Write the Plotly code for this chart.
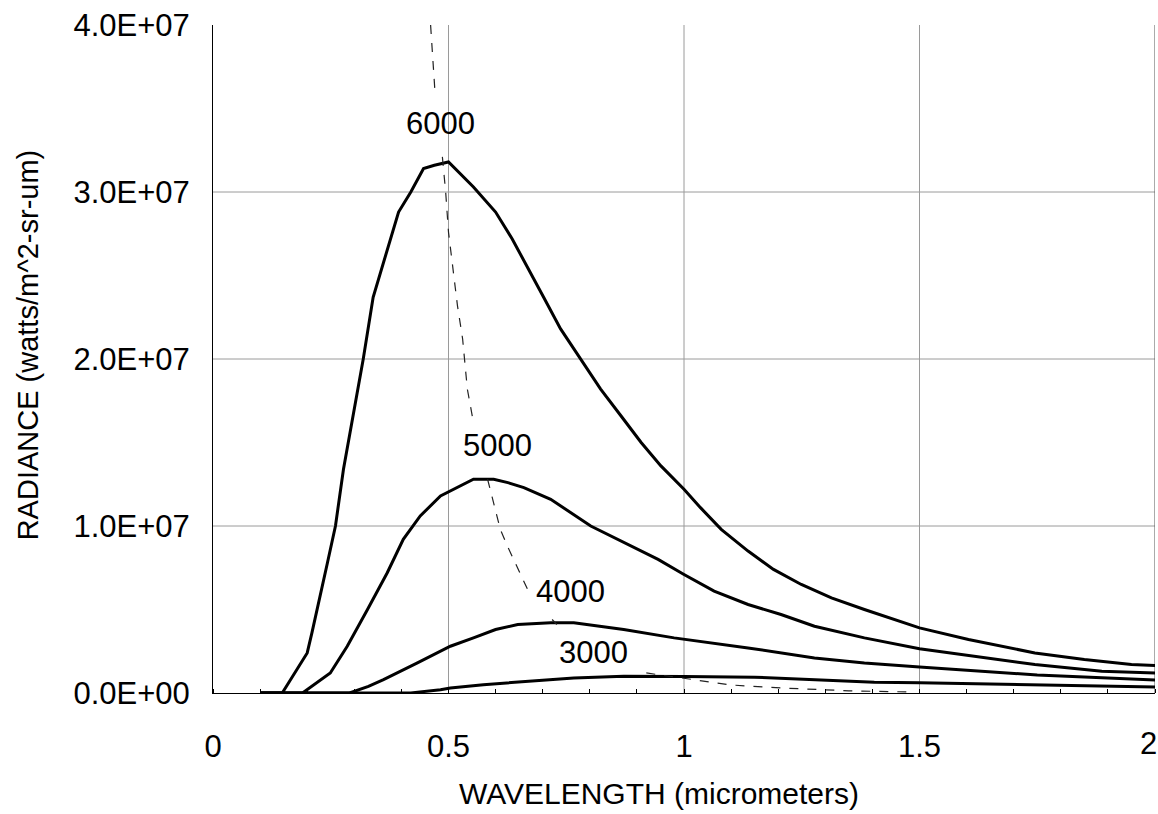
import plotly.graph_objects as go

# ---- data ----
x_6000 = [0.10, 0.147, 0.20, 0.21, 0.243, 0.26, 0.277, 0.298, 0.319, 0.34, 0.362, 0.394, 0.42, 0.435, 0.447,
          0.47, 0.489, 0.50, 0.553, 0.60, 0.635, 0.668, 0.702, 0.738, 0.781, 0.823, 0.866, 0.909, 0.951,
          1.0, 1.035, 1.079, 1.136, 1.19, 1.249, 1.313, 1.383, 1.5, 1.604, 1.745, 1.85, 1.95, 2.0]
y_6000 = [0.0, 0.0, 0.24e7, 0.36e7, 0.78e7, 1.0e7, 1.34e7, 1.68e7, 2.0e7, 2.37e7, 2.58e7, 2.88e7, 3.0e7, 3.08e7, 3.14e7,
          3.16e7, 3.17e7, 3.18e7, 3.03e7, 2.88e7, 2.72e7, 2.55e7, 2.37e7, 2.18e7, 2.0e7, 1.82e7, 1.66e7, 1.5e7, 1.36e7,
          1.22e7, 1.11e7, 0.98e7, 0.85e7, 0.74e7, 0.65e7, 0.57e7, 0.50e7, 0.39e7, 0.32e7, 0.24e7, 0.20e7, 0.17e7, 0.165e7]

x_5000 = [0.10, 0.19, 0.249, 0.285, 0.328, 0.37, 0.404, 0.44, 0.483, 0.511, 0.553, 0.596, 0.626, 0.66,
          0.717, 0.802, 0.872, 0.945, 1.0, 1.064, 1.136, 1.206, 1.277, 1.383, 1.5, 1.604, 1.745, 1.887, 2.0]
y_5000 = [0.0, 0.0, 0.12e7, 0.28e7, 0.50e7, 0.72e7, 0.92e7, 1.06e7, 1.18e7, 1.22e7, 1.28e7, 1.28e7, 1.26e7, 1.23e7,
          1.16e7, 1.0e7, 0.9e7, 0.8e7, 0.71e7, 0.61e7, 0.53e7, 0.47e7, 0.40e7, 0.33e7, 0.265e7, 0.225e7, 0.17e7, 0.13e7, 0.12e7]

x_4000 = [0.10, 0.29, 0.33, 0.362, 0.434, 0.504, 0.553, 0.60, 0.647, 0.717, 0.766, 0.872, 0.979,
          1.136, 1.277, 1.383, 1.5, 1.75, 2.0]
y_4000 = [0.0, 0.0, 0.04e7, 0.08e7, 0.18e7, 0.28e7, 0.33e7, 0.38e7, 0.41e7, 0.42e7, 0.42e7, 0.38e7, 0.33e7,
          0.27e7, 0.21e7, 0.18e7, 0.156e7, 0.108e7, 0.078e7]

x_3000 = [0.10, 0.42, 0.483, 0.504, 0.574, 0.647, 0.717, 0.766, 0.872, 0.97, 1.0, 1.15, 1.298, 1.404,
          1.5, 1.75, 2.0]
y_3000 = [0.0, 0.0, 0.02e7, 0.03e7, 0.05e7, 0.066e7, 0.08e7, 0.09e7, 0.10e7, 0.10e7, 0.099e7, 0.095e7, 0.08e7, 0.065e7,
          0.062e7, 0.048e7, 0.036e7]

# locus of the peaks (dashed), broken where the temperature labels sit
x_peak = [0.462, 0.466, 0.472, None, 0.487, 0.494, 0.50, 0.508, 0.519, 0.53, 0.54, 0.553, None,
          0.583, 0.61, 0.625, 0.668, None, 0.72, 0.73, None,
          0.92, 0.97, 1.015, 1.10, 1.206, 1.35, 1.48]
y_peak = [4.0e7, 3.8e7, 3.57e7, None, 3.21e7, 3.0e7, 2.76e7, 2.58e7, 2.32e7, 2.12e7, 1.82e7, 1.62e7, None,
          1.28e7, 0.98e7, 0.88e7, 0.62e7, None, 0.44e7, 0.41e7, None,
          0.12e7, 0.10e7, 0.08e7, 0.048e7, 0.03e7, 0.013e7, 0.006e7]

temps = ["6000", "5000", "4000", "3000"]
label_x = [0.484, 0.605, 0.758, 0.807]
label_y = [3.41e7, 1.485e7, 0.605e7, 0.24e7]

x_ticks = [0, 0.5, 1, 1.5, 2]
x_ticktext = ["0", "0.5", "1", "1.5", "2"]
y_ticks = [0, 1e7, 2e7, 3e7, 4e7]
y_ticktext = ["0.0E+00", "1.0E+07", "2.0E+07", "3.0E+07", "4.0E+07"]

FONT = "Liberation Sans, Arial, sans-serif"

fig = go.Figure()
for xs, ys in [(x_6000, y_6000), (x_5000, y_5000), (x_4000, y_4000), (x_3000, y_3000)]:
    fig.add_trace(go.Scatter(x=xs, y=ys, mode="lines",
                             line=dict(color="black", width=3), showlegend=False, hoverinfo="skip"))
fig.add_trace(go.Scatter(x=x_peak, y=y_peak, mode="lines", connectgaps=False,
                         line=dict(color="#222222", width=1.2, dash="dash"), showlegend=False, hoverinfo="skip"))

# grid lines (interior ticks only; none on the top edge)
shapes = []
for v in x_ticks[1:-1]:
    shapes.append(dict(type="line", xref="x", yref="y", x0=v, x1=v, y0=y_ticks[0], y1=y_ticks[-1],
                       line=dict(color="#9a9a9a", width=1), layer="below"))
for v in y_ticks[1:-1]:
    shapes.append(dict(type="line", xref="x", yref="y", x0=x_ticks[0], x1=x_ticks[-1], y0=v, y1=v,
                       line=dict(color="#9a9a9a", width=1), layer="below"))
shapes.append(dict(type="line", xref="x", yref="y", x0=x_ticks[-1], x1=x_ticks[-1], y0=y_ticks[0], y1=y_ticks[-1],
                   line=dict(color="#555555", width=1), layer="below"))

annotations = []
for t, lx, ly in zip(temps, label_x, label_y):
    annotations.append(dict(x=lx, y=ly, xref="x", yref="y", text=t, showarrow=False,
                            font=dict(family=FONT, size=31, color="black"), xanchor="center", yanchor="middle"))
# last x tick label (kept inside the page)
annotations.append(dict(x=x_ticks[-1], y=0, xref="x", yref="paper", text=x_ticktext[-1], showarrow=False,
                        xanchor="right", yanchor="top", xshift=4, yshift=-31,
                        font=dict(family=FONT, size=31, color="black")))
# axis titles
annotations.append(dict(x=0.473, y=-0.15, xref="paper", yref="paper", text="WAVELENGTH (micrometers)",
                        showarrow=False, xanchor="center", yanchor="middle",
                        font=dict(family=FONT, size=30, color="black")))
annotations.append(dict(x=-0.196, y=0.521, xref="paper", yref="paper", text="RADIANCE (watts/m^2-sr-um)",
                        showarrow=False, textangle=-90, xanchor="center", yanchor="middle",
                        font=dict(family=FONT, size=29, color="black")))

fig.update_layout(
    width=1158, height=814,
    margin=dict(l=213, r=3, t=25, b=121),
    paper_bgcolor="white", plot_bgcolor="white",
    showlegend=False,
    shapes=shapes, annotations=annotations,
    xaxis=dict(range=[0, 2], tickvals=x_ticks[:-1], ticktext=x_ticktext[:-1], showgrid=False, zeroline=False,
               showline=True, linecolor="black", linewidth=1, ticks="",
               ticklabelstandoff=26, tickfont=dict(family=FONT, size=31, color="black"),
               minor=dict(dtick=0.1, tick0=0, ticks="inside", ticklen=4, tickcolor="black", tickwidth=1, showgrid=False)),
    yaxis=dict(range=[0, 4e7], tickvals=y_ticks, ticktext=y_ticktext, showgrid=False, zeroline=False,
               showline=True, linecolor="black", linewidth=1, ticks="",
               ticklabelstandoff=16, tickfont=dict(family=FONT, size=31, color="black")),
)

fig.write_html("out.html")
